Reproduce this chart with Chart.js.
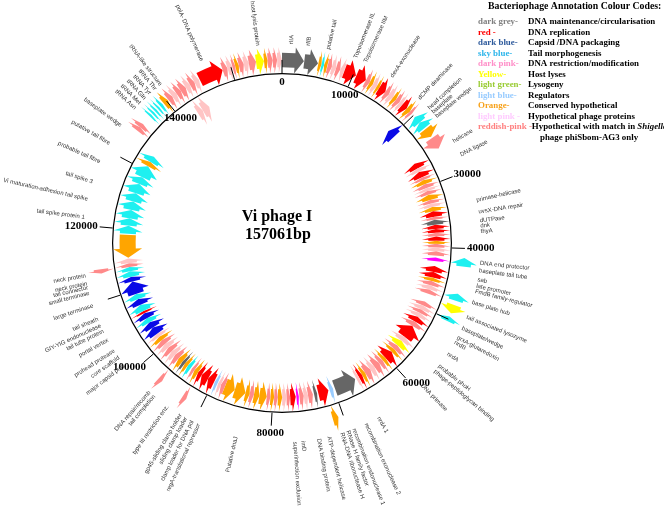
<!DOCTYPE html>
<html>
<head>
<meta charset="utf-8">
<script src="https://cdn.jsdelivr.net/npm/chart.js@4.4.0/dist/chart.umd.min.js"></script>
<style>
  html, body { margin: 0; padding: 0; background: #fff; }
</style>
</head>
<body>
<canvas id="genomeMap" width="664" height="510"></canvas>
<script>
'use strict';

const genomeLength = 157061;
const genomeName = 'Vi phage I';

// genes drawn outside the circle
const outerStart = [0, 3050, 5000, 5450, 5800, 6300, 6900, 7500, 8100, 8700,
  10450, 11900, 12500, 13000, 13600, 14000, 15000, 15600, 16300, 16800,
  17400, 17900, 18700, 19300, 20300, 21300, 22500, 24000, 41300, 46300,
  47900, 49600, 70700, 92300, 96400, 113600, 134300, 134900, 136900, 137400,
  137900, 138400, 138900, 139500, 140300, 141000, 141700, 142400, 143200, 143900,
  144600, 145400, 148800, 149500, 150200, 150600, 151100, 151800, 152500, 153500,
  154600, 155100, 155800, 156400];
const outerEnd = [3000, 4950, 5450, 5800, 6250, 6900, 7500, 8100, 8650, 10400,
  11900, 12500, 13000, 13600, 14000, 15000, 15600, 16300, 16800, 17400,
  17900, 18700, 19300, 19700, 21300, 22300, 23800, 25700, 42500, 47300,
  49100, 50300, 71500, 92900, 97000, 114200, 134900, 135500, 137200, 137700,
  138200, 138700, 139300, 140200, 141000, 141700, 142400, 143200, 143900, 144600,
  145300, 148800, 149500, 150200, 150600, 151100, 151800, 152500, 153500, 154600,
  155100, 155800, 156400, 157061];
const outerDir = [1, 1, 1, 1, -1, 1, 1, 1, -1, 1,
  1, 1, 1, 1, 1, 1, 1, 1, 1, 1,
  1, 1, 1, 1, -1, -1, 1, 1, -1, -1,
  1, -1, -1, -1, -1, -1, 1, 1, 1, 1,
  1, 1, 1, 1, 1, 1, 1, 1, 1, 1,
  1, 1, 1, 1, 1, 1, 1, 1, 1, 1,
  1, 1, 1, 1];
const outerType = ['grey', 'grey', 'orange', 'sky', 'orange', 'rpink', 'lpink', 'rpink', 'lpink', 'red',
  'red', 'rpink', 'orange', 'lpink', 'orange', 'red', 'rpink', 'lpink', 'orange', 'rpink',
  'lpink', 'red', 'orange', 'rpink', 'sky', 'sky', 'orange', 'rpink', 'sky', 'sky',
  'yellow', 'sky', 'orange', 'rpink', 'rpink', 'rpink', 'rpink', 'rpink', 'sky', 'sky',
  'sky', 'sky', 'sky', 'orange', 'rpink', 'lpink', 'rpink', 'rpink', 'lpink', 'rpink',
  'lpink', 'red', 'rpink', 'lpink', 'rpink', 'orange', 'rpink', 'lpink', 'rpink', 'yellow',
  'orange', 'rpink', 'rpink', 'lpink'];

// genes drawn inside the circle
const innerStart = [19000, 25800, 26700, 27300, 28300, 28800, 29500, 30200, 30700, 31300,
  32200, 32800, 33400, 34100, 35000, 35500, 36300, 37000, 37600, 38200,
  38900, 39400, 40000, 40600, 41600, 43000, 44000, 44900, 45500, 46200,
  46900, 49000, 49700, 50400, 51000, 51700, 52600, 53400, 55600, 56400,
  57400, 58200, 58800, 60200, 60800, 61500, 62500, 63300, 64300, 64900,
  65500, 66200, 70100, 70900, 72800, 73500, 74300, 75000, 75800, 76300,
  77200, 77800, 78500, 79200, 79800, 80400, 81000, 82200, 83100, 83800,
  84500, 86300, 88000, 88700, 89300, 89900, 91000, 92200, 92900, 93600,
  94300, 94900, 95500, 96000, 96800, 97600, 98400, 99200, 100000, 100800,
  101500, 102100, 103300, 104300, 105100, 106000, 106400, 107500, 108500, 109400,
  111500, 112300, 113200, 113900, 114500, 115400, 119300, 120600, 121800, 123200,
  124600, 126000, 127600, 128800, 130800, 131600, 142700, 143600];
const innerEnd = [20300, 26700, 27300, 28300, 28800, 29500, 30200, 30700, 31300, 32200,
  32800, 33400, 34100, 35000, 35500, 36300, 37000, 37600, 38200, 38900,
  39400, 40000, 40600, 41300, 42200, 44000, 44900, 45500, 46200, 46900,
  47600, 49700, 50400, 51000, 51700, 52600, 53400, 55600, 56400, 57400,
  58200, 58800, 60200, 60800, 61500, 62500, 63300, 64300, 64900, 65500,
  66000, 69800, 70700, 72600, 73300, 74300, 75000, 75700, 76200, 77200,
  77800, 78500, 79200, 79800, 80400, 81000, 82200, 83100, 83800, 84500,
  86300, 88000, 88700, 89200, 89800, 91000, 92200, 92900, 93600, 94100,
  94900, 95500, 96000, 96800, 97600, 98400, 99200, 100000, 100800, 101500,
  102100, 103300, 104300, 105100, 106000, 106400, 107500, 108500, 109400, 111500,
  112300, 113200, 113900, 114500, 115300, 119100, 120600, 121800, 123200, 124600,
  126000, 127600, 128800, 130800, 131600, 132600, 143600, 144800];
const innerDir = [-1, -1, -1, -1, -1, -1, -1, -1, -1, -1,
  -1, -1, -1, -1, -1, -1, -1, -1, -1, -1,
  -1, -1, -1, -1, -1, -1, -1, -1, -1, -1,
  -1, -1, -1, -1, -1, -1, -1, -1, -1, -1,
  -1, -1, -1, -1, -1, -1, -1, -1, -1, -1,
  -1, -1, -1, -1, -1, -1, -1, -1, -1, -1,
  -1, -1, -1, -1, -1, -1, -1, -1, -1, -1,
  -1, -1, 1, 1, 1, 1, 1, 1, 1, 1,
  1, 1, 1, 1, 1, 1, 1, 1, 1, 1,
  1, 1, 1, 1, 1, 1, 1, 1, 1, 1,
  1, 1, 1, 1, 1, -1, 1, 1, 1, 1,
  1, 1, 1, 1, 1, 1, 1, 1];
const innerType = ['dblue', 'red', 'lpink', 'red', 'rpink', 'orange', 'rpink', 'lpink', 'rpink', 'orange',
  'rpink', 'lpink', 'orange', 'red', 'rpink', 'grey', 'red', 'red', 'rpink', 'red',
  'orange', 'rpink', 'lpink', 'rpink', 'dpink', 'red', 'red', 'orange', 'rpink', 'lpink',
  'rpink', 'rpink', 'lpink', 'rpink', 'lpink', 'red', 'rpink', 'red', 'lpink', 'yellow',
  'rpink', 'orange', 'red', 'orange', 'rpink', 'rpink', 'lpink', 'rpink', 'orange', 'red',
  'lpink', 'grey', 'lblue', 'red', 'grey', 'rpink', 'lpink', 'rpink', 'dpink', 'red',
  'rpink', 'lpink', 'orange', 'rpink', 'orange', 'rpink', 'orange', 'orange', 'rpink', 'orange',
  'orange', 'orange', 'rpink', 'lpink', 'lblue', 'red', 'red', 'red', 'orange', 'rpink',
  'sky', 'orange', 'grey', 'orange', 'rpink', 'lpink', 'rpink', 'lpink', 'rpink', 'orange',
  'lpink', 'dblue', 'dblue', 'sky', 'dblue', 'red', 'sky', 'dblue', 'sky', 'dblue',
  'dblue', 'sky', 'sky', 'rpink', 'lpink', 'orange', 'sky', 'sky', 'sky', 'sky',
  'sky', 'sky', 'sky', 'sky', 'orange', 'sky', 'lpink', 'lpink'];

// scale ticks (bp)
const tickValues = [0, 10000, 20000, 30000, 40000, 50000, 60000, 70000,
  80000, 90000, 100000, 110000, 120000, 130000, 140000, 150000];
const tickLabels = ['0', '10000', '', '30000', '40000', '', '60000', '',
  '80000', '', '100000', '', '120000', '', '140000', ''];
const tickInside = [1, 1, 0, 0, 0, 0, 0, 0, 0, 0, 0, 0, 0, 0, 1, 0];

// gene names and where they sit (bp)
const geneLabels = ['rIIA', 'rIIB', 'putative tail', 'Topoisomerase IIL', 'Topoisomerase IIM',
  'dexA-exonuclease', 'dCMP deaminase', 'head completion', 'baseplate', 'baseplate wedge',
  'helicase', 'DNA ligase', 'primase-helicase', 'uvsX-DNA repair', 'dUTPase', 'dnk', 'thyA',
  'DNA end protector', 'baseplate tail tube', 'sab', 'late promoter', 'FmdB family-regulator',
  'base plate hub', 'tail associated lysozyme', 'baseplate/wedge', 'grxA-glutaredoxin', 'nrdB',
  'nrdA', 'probable phoH', 'phage-peptidoglycan binding', 'DNA primase', 'nrdA 1',
  'recombination exonuclease 2', 'recombination endonuclease 1', 'RNase H family factor',
  'RNA-DNA ribonuclease H', 'ATP-dependent helicase', 'DNA binding protein', 'imD',
  'superinfection exclusion', 'Putative dnaJ', 'regA-translational repressor',
  'clamp loader for DNA pol', 'sliding clamp loader', 'gp45-sliding clamp holder',
  'type III restriction enz.', 'tail completion', 'DNA repair/recomb', 'major capsid prot.',
  'core scaffold', 'prohead protease', 'portal vertex', 'tail tube protein',
  'GIY-YIG endonuclease', 'tail sheath', 'large terminase', 'small terminase',
  'tail connector', 'neck protein', 'neck protein', 'tail spike protein 1',
  'Vi maturation-adhesion tail spike', 'tail spike 3', 'probable tail fibre',
  'putative tail fibre', 'baseplate wedge', 'tRNA Asn', 'tRNA Met', 'tRNA Gln', 'tRNA Tyr',
  'tRNA Thr', 'tRNA-like structure', 'polA- DNA polymerase', 'host lysis protein'];
const geneLabelPos = [1170, 3300, 5850, 9450, 10800,
  14600, 19000, 20700, 21400, 22100,
  25900, 27800, 33850, 35350, 36450, 37100, 37800,
  41800, 42750, 43900, 44700, 45400,
  46800, 48800, 50300, 51600, 52300,
  54000, 55850, 56700, 59100, 65900,
  67650, 69300, 70100,
  70900, 72600, 73900, 75900,
  76900, 84350, 89300,
  90200, 91100, 91900,
  93850, 95950, 96700, 101350,
  102500, 103550, 105100, 106350,
  107100, 108000, 109800, 111450,
  112150, 112650, 113650, 121050,
  123350, 125600, 128300,
  130900, 133550, 136340, 137210, 138080, 138950,
  139830, 140700, 146700, 154000];

// colour key
const legendNames = ['dark grey-', 'red -', 'dark blue-', 'sky blue-', 'dark pink-', 'Yellow-',
  'light green-', 'light blue-', 'Orange-', 'light pink -', 'reddish-pink -'];
const legendDescs = ['DNA maintenance/circularisation', 'DNA replication', 'Capsid /DNA packaging',
  'Tail morphogenesis', 'DNA restriction/modification', 'Host lyses', 'Lysogeny', 'Regulators',
  'Conserved hypothetical', 'Hypothetical phage proteins', 'Hypothetical with match in '];
const legendKeys = ['grey', 'red', 'dblue', 'sky', 'dpink', 'yellow', 'green', 'lblue',
  'orange', 'lpink', 'rpink'];

const geneColors = {
  grey: '#666666', red: '#ff0000', dblue: '#0a0ae6', sky: '#1ef0f0', dpink: '#ff00ff',
  yellow: '#ffff00', green: '#99cc33', lblue: '#99ccff', orange: '#ffa500',
  lpink: '#ffc4c4', rpink: '#ff8a8a'
};
const keyColors = {
  grey: '#808080', red: '#ff0000', dblue: '#2f5b9c', sky: '#2cb5ea', dpink: '#ff8fc8',
  yellow: '#ffff00', green: '#99cc33', lblue: '#99ccff', orange: '#f7a21b',
  lpink: '#ffccff', rpink: '#ff8080'
};

function ringData(starts, ends, dirs, types) {
  const data = [], genes = [];
  let pos = 0;
  for (let i = 0; i < starts.length; i++) {
    const s = Math.max(starts[i], pos);
    if (s > pos) { data.push(s - pos); genes.push(null); }
    data.push(ends[i] - s);
    genes.push({ dir: dirs[i], type: types[i] });
    pos = ends[i];
  }
  if (pos < genomeLength) { data.push(genomeLength - pos); genes.push(null); }
  return { data, genes };
}

const outerRing = ringData(outerStart, outerEnd, outerDir, outerType);
const innerRing = ringData(innerStart, innerEnd, innerDir, innerType);

function drawGene(ctx, p, dir, color) {
  const cx = p.x, cy = p.y;
  const a0 = p.startAngle, a1 = p.endAngle;
  const r0 = p.innerRadius, r1 = p.outerRadius;
  const w = r1 - r0, rm = (r0 + r1) / 2;
  const b0 = r0 + w * 0.22, b1 = r1 - w * 0.22;
  const head = Math.min(9 / rm, (a1 - a0) * 0.7);
  const pt = (r, a) => [cx + r * Math.cos(a), cy + r * Math.sin(a)];
  ctx.beginPath();
  if (dir > 0) {
    const ah = a1 - head;
    ctx.moveTo(...pt(b0, a0));
    ctx.arc(cx, cy, b0, a0, ah);
    ctx.lineTo(...pt(r0, ah));
    ctx.lineTo(...pt(rm, a1));
    ctx.lineTo(...pt(r1, ah));
    ctx.lineTo(...pt(b1, ah));
    ctx.arc(cx, cy, b1, ah, a0, true);
  } else {
    const ah = a0 + head;
    ctx.moveTo(...pt(rm, a0));
    ctx.lineTo(...pt(r1, ah));
    ctx.lineTo(...pt(b1, ah));
    ctx.arc(cx, cy, b1, ah, a1);
    ctx.lineTo(...pt(b0, a1));
    ctx.arc(cx, cy, b0, a1, ah, true);
    ctx.lineTo(...pt(r0, ah));
  }
  ctx.closePath();
  ctx.fillStyle = color;
  ctx.fill();
}

function radialText(ctx, cx, cy, a, r, text) {
  let deg = ((a + Math.PI / 2) * 180 / Math.PI) % 360;
  if (deg < 0) deg += 360;
  ctx.save();
  ctx.translate(cx, cy);
  if (deg < 180) {
    ctx.rotate(a);
    ctx.textAlign = 'left';
    ctx.fillText(text, r, 0);
  } else {
    ctx.rotate(a + Math.PI);
    ctx.textAlign = 'right';
    ctx.fillText(text, -r, 0);
  }
  ctx.restore();
}

const genomePlugin = {
  id: 'genomePlugin',
  afterDatasetsDraw(chart) {
    const ctx = chart.ctx;
    ctx.save();

    // gene arrows, on the arcs laid out by the doughnut
    chart.data.datasets.forEach((ds, di) => {
      if (!ds.genes) return;
      chart.getDatasetMeta(di).data.forEach((arc, i) => {
        const g = ds.genes[i];
        if (!g) return;
        const p = arc.getProps(['x', 'y', 'startAngle', 'endAngle', 'innerRadius', 'outerRadius'], true);
        drawGene(ctx, p, g.dir, geneColors[g.type]);
      });
    });

    // backbone circle gives the centre, radius and angle range
    const ring = chart.getDatasetMeta(1).data[0]
      .getProps(['x', 'y', 'startAngle', 'endAngle', 'outerRadius'], true);
    const cx = ring.x, cy = ring.y, R = ring.outerRadius;
    const angleOf = v => ring.startAngle + (ring.endAngle - ring.startAngle) * v / genomeLength;

    // ticks
    ctx.strokeStyle = '#000';
    ctx.lineWidth = 1;
    ctx.font = 'bold 11px "Liberation Serif"';
    ctx.fillStyle = '#000';
    ctx.textBaseline = 'middle';
    ctx.textAlign = 'center';
    tickValues.forEach((v, i) => {
      const a = angleOf(v);
      const ux = Math.cos(a), uy = Math.sin(a);
      ctx.beginPath();
      ctx.moveTo(cx + R * ux, cy + R * uy);
      ctx.lineTo(cx + (R + 13) * ux, cy + (R + 13) * uy);
      ctx.stroke();
      if (!tickLabels[i]) return;
      if (tickInside[i]) {
        ctx.fillText(tickLabels[i], cx + (R - 9) * ux, cy + (R - 9) * uy);
      } else {
        const hw = ctx.measureText(tickLabels[i]).width / 2;
        ctx.fillText(tickLabels[i], cx + (R + 15) * ux + hw * ux, cy + (R + 15) * uy + 5 * uy);
      }
    });

    // gene names
    ctx.font = '6px "Liberation Sans"';
    ctx.fillStyle = '#333';
    ctx.textBaseline = 'middle';
    geneLabels.forEach((t, i) => {
      radialText(ctx, cx, cy, angleOf(geneLabelPos[i]), R + 29, t);
    });

    // title in the middle
    ctx.font = 'bold 16px "Liberation Serif"';
    ctx.fillStyle = '#000';
    ctx.textAlign = 'center';
    ctx.fillText(genomeName, cx - 5, cy - 26);
    ctx.fillText(genomeLength + 'bp', cx - 4, cy - 8);

    // colour key
    ctx.textAlign = 'left';
    ctx.textBaseline = 'alphabetic';
    ctx.font = 'bold 9.8px "Liberation Serif"';
    ctx.fillText('Bacteriophage Annotation Colour Codes:', 488, 9);
    const rowFont = 'bold 8.9px "Liberation Serif"';
    legendNames.forEach((n, i) => {
      const y = 24 + i * 10.5;
      ctx.font = rowFont;
      ctx.fillStyle = keyColors[legendKeys[i]];
      ctx.fillText(n, 478, y);
      const nx = Math.max(528, 478 + ctx.measureText(n).width);
      ctx.fillStyle = '#000';
      ctx.fillText(legendDescs[i], nx, y);
      if (i === legendNames.length - 1) {
        const ix = nx + ctx.measureText(legendDescs[i]).width;
        ctx.font = 'bold italic 8.9px "Liberation Serif"';
        ctx.fillText('Shigella', ix, y);
        ctx.font = rowFont;
        ctx.fillText('phage phiSbom-AG3 only', 540, y + 10.5);
      }
    });

    ctx.restore();
  }
};

window.onload = function () {
  const context = document.getElementById('genomeMap').getContext('2d');
  new Chart(context, {
    type: 'doughnut',
    data: {
      datasets: [{
        data: outerRing.data,
        genes: outerRing.genes,
        backgroundColor: 'rgba(0,0,0,0)',
        weight: 26
      }, {
        data: [genomeLength],
        backgroundColor: '#000',
        weight: 1.2
      }, {
        data: innerRing.data,
        genes: innerRing.genes,
        backgroundColor: 'rgba(0,0,0,0)',
        weight: 28.8
      }]
    },
    options: {
      responsive: false,
      devicePixelRatio: 1,
      animation: false,
      events: [],
      cutout: '71.43%',
      borderWidth: 0,
      hoverOffset: 0,
      layout: { padding: { left: 86, top: 47, right: 186, bottom: 71 } },
      plugins: {
        legend: { display: false },
        tooltip: { enabled: false }
      }
    },
    plugins: [genomePlugin]
  });
};
</script>
</body>
</html>
